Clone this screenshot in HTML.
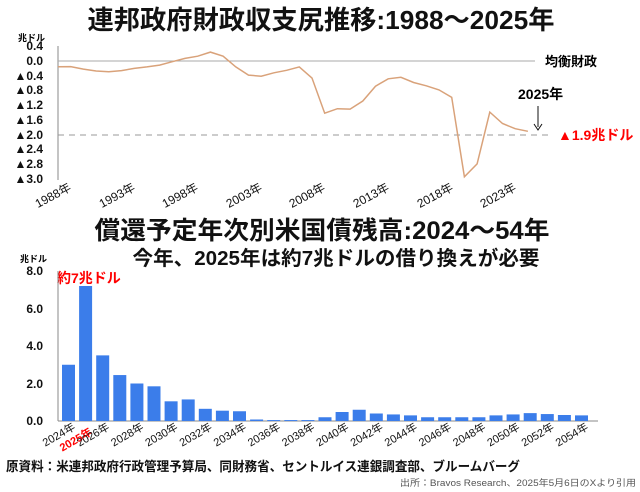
<!DOCTYPE html>
<html><head><meta charset="utf-8"><style>
body{margin:0;background:#fff;width:640px;height:487px;overflow:hidden}
text{font-family:"Liberation Sans","Noto Sans CJK JP",sans-serif}
</style></head><body>
<svg width="640" height="487" xmlns="http://www.w3.org/2000/svg">
<text x="321" y="29" text-anchor="middle" font-size="26" font-weight="bold" fill="#111" textLength="467" lengthAdjust="spacingAndGlyphs">連邦政府財政収支尻推移:1988～2025年</text>
<!-- top chart -->
<text x="18" y="41" font-size="9" font-weight="bold">兆ドル</text>
<g font-size="12" font-weight="bold" text-anchor="end" fill="#111">
<text x="43" y="50">0.4</text><text x="43" y="65">0.0</text>
<text x="43" y="80">▲0.4</text><text x="43" y="94">▲0.8</text><text x="43" y="109">▲1.2</text>
<text x="43" y="124">▲1.6</text><text x="43" y="139">▲2.0</text><text x="43" y="153">▲2.4</text>
<text x="43" y="168">▲2.8</text><text x="43" y="183">▲3.0</text>
</g>
<line x1="58" y1="46" x2="58" y2="180" stroke="#888" stroke-width="1"/>
<line x1="58" y1="61" x2="535" y2="61" stroke="#aaa" stroke-width="1"/>
<line x1="58" y1="135" x2="548" y2="135" stroke="#999" stroke-width="1" stroke-dasharray="6,5"/>
<text x="545" y="66" font-size="13" font-weight="bold">均衡財政</text>
<text x="518" y="99" font-size="14" font-weight="bold">2025年</text>
<line x1="538" y1="106" x2="538" y2="127" stroke="#111"/>
<path d="M534,124 L538,130 L542,124" fill="none" stroke="#111"/>
<text x="558" y="140" font-size="14" font-weight="bold" fill="#f00">▲1.9兆ドル</text>
<polyline fill="none" stroke="#d9a27a" stroke-width="1.5" points="58,66.7 70.7,66.6 83.4,69.1 96.1,71.0 108.8,71.7 121.5,70.6 134.2,68.4 146.9,66.9 159.6,65.1 172.3,61.7 185,58.4 197.7,56.2 210.4,52.1 223.1,56.2 235.8,66.9 248.5,75.1 261.2,76.2 273.9,72.8 286.6,70.3 299.3,66.9 312,78.0 324.7,113.2 337.4,108.7 350.1,109.1 362.8,101.0 375.5,86.2 388.2,78.8 400.9,77.3 413.6,82.5 426.3,85.8 439,89.9 451.7,97.3 464.4,176.8 477.1,163.9 489.8,112.1 502.5,123.5 515.2,128.7 527.9,131.3"/>
<g font-size="12" fill="#111">
<text transform="translate(72,190) rotate(-28)" text-anchor="end">1988年</text>
<text transform="translate(136,190) rotate(-28)" text-anchor="end">1993年</text>
<text transform="translate(199,190) rotate(-28)" text-anchor="end">1998年</text>
<text transform="translate(263,190) rotate(-28)" text-anchor="end">2003年</text>
<text transform="translate(326,190) rotate(-28)" text-anchor="end">2008年</text>
<text transform="translate(390,190) rotate(-28)" text-anchor="end">2013年</text>
<text transform="translate(454,190) rotate(-28)" text-anchor="end">2018年</text>
<text transform="translate(517,190) rotate(-28)" text-anchor="end">2023年</text>
</g>
<!-- bottom chart -->
<text x="322" y="239" text-anchor="middle" font-size="25" font-weight="bold" fill="#111" textLength="455" lengthAdjust="spacingAndGlyphs">償還予定年次別米国債残高:2024～54年</text>
<text x="336" y="265" text-anchor="middle" font-size="20" font-weight="bold" fill="#111" textLength="407" lengthAdjust="spacingAndGlyphs">今年、2025年は約7兆ドルの借り換えが必要</text>
<text x="20" y="262" font-size="9" font-weight="bold">兆ドル</text>
<g font-size="12" font-weight="bold" text-anchor="end" fill="#111">
<text x="43" y="275">8.0</text><text x="43" y="313">6.0</text><text x="43" y="350">4.0</text>
<text x="43" y="388">2.0</text><text x="43" y="425">0.0</text>
</g>
<text x="57" y="283" font-size="14" font-weight="bold" fill="#f00">約7兆ドル</text>
<line x1="58" y1="271" x2="58" y2="421" stroke="#888"/>
<line x1="58" y1="421" x2="598" y2="421" stroke="#888"/>
<g fill="#3b7dea" id="bars"></g>
<g font-size="11" fill="#111" id="xl"></g>
<text x="6" y="471" font-size="13" font-weight="bold" fill="#111" textLength="514" lengthAdjust="spacingAndGlyphs">原資料：米連邦政府行政管理予算局、同財務省、セントルイス連銀調査部、ブルームバーグ</text>
<text x="636" y="486" font-size="9" text-anchor="end" fill="#555" textLength="236" lengthAdjust="spacingAndGlyphs">出所：Bravos Research、2025年5月6日のXより引用</text>
<script>
var v=[3.0,7.2,3.5,2.45,2.0,1.85,1.05,1.15,0.65,0.55,0.52,0.08,0.05,0.05,0.05,0.2,0.48,0.6,0.4,0.35,0.3,0.2,0.2,0.2,0.2,0.3,0.35,0.42,0.37,0.32,0.3];
var b=document.getElementById('bars'),xl=document.getElementById('xl'),ns='http://www.w3.org/2000/svg';
v.forEach(function(d,i){var x=62+i*17.1,h=d*18.75;var r=document.createElementNS(ns,'rect');
r.setAttribute('x',x);r.setAttribute('y',421-h);r.setAttribute('width',13);r.setAttribute('height',h);b.appendChild(r);
if(i%2==0||i==1){var t=document.createElementNS(ns,'text');t.textContent=(2024+i)+'年';
t.setAttribute('transform','translate('+(x+14)+','+(429+(i==1?5:0))+') rotate(-30)');t.setAttribute('text-anchor','end');
if(i==1){t.setAttribute('fill','#f00');t.setAttribute('font-weight','bold');}xl.appendChild(t);}});
</script>
</svg>
</body></html>
